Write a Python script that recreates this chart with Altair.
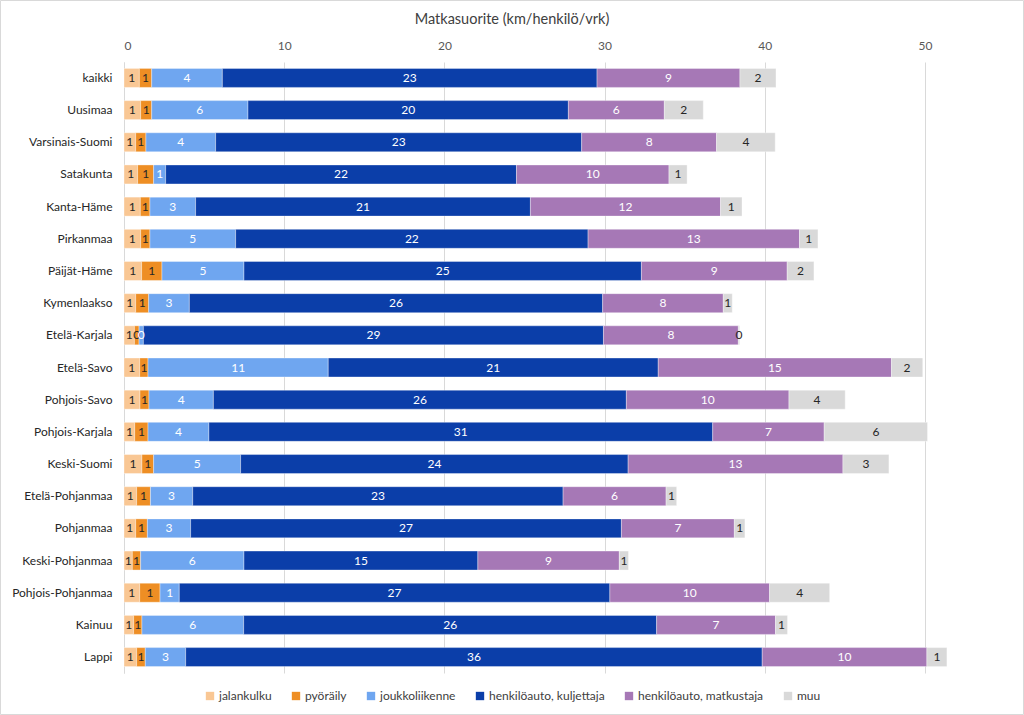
import altair as alt
import pandas as pd

regions = ["kaikki", "Uusimaa", "Varsinais-Suomi", "Satakunta", "Kanta-Häme", "Pirkanmaa",
           "Päijät-Häme", "Kymenlaakso", "Etelä-Karjala", "Etelä-Savo", "Pohjois-Savo",
           "Pohjois-Karjala", "Keski-Suomi", "Etelä-Pohjanmaa", "Pohjanmaa", "Keski-Pohjanmaa",
           "Pohjois-Pohjanmaa", "Kainuu", "Lappi"]

modes = ["jalankulku", "pyöräily", "joukkoliikenne", "henkilöauto, kuljettaja",
         "henkilöauto, matkustaja", "muu"]

jalankulku = [0.96, 1.04, 0.73, 0.85, 1.02, 1.04, 1.10, 0.73, 0.65, 0.98, 1.00, 0.67, 1.12, 0.79, 0.73, 0.52, 0.98, 0.60, 0.79]
pyoraily = [0.77, 0.69, 0.64, 1.00, 0.60, 0.58, 1.27, 0.81, 0.29, 0.52, 0.56, 0.83, 0.73, 0.86, 0.73, 0.52, 1.27, 0.52, 0.54]
joukkoliikenne = [4.41, 6.01, 4.35, 0.75, 2.85, 5.35, 5.12, 2.54, 0.27, 11.25, 4.02, 3.80, 5.43, 2.64, 2.70, 6.45, 1.20, 6.35, 2.52]
kuljettaja = [23.39, 20.00, 22.85, 21.90, 20.90, 22.00, 24.81, 25.80, 28.72, 20.60, 25.78, 31.45, 24.19, 23.12, 26.89, 14.60, 26.88, 25.78, 35.99]
matkustaja = [8.92, 5.99, 8.42, 9.52, 11.87, 13.20, 9.10, 7.53, 8.42, 14.56, 10.15, 6.96, 13.41, 6.43, 7.05, 8.83, 9.97, 7.42, 10.28]
muu = [2.25, 2.43, 3.66, 1.13, 1.34, 1.15, 1.67, 0.56, 0.08, 1.95, 3.51, 6.45, 2.87, 0.66, 0.66, 0.57, 3.75, 0.75, 1.25]

series = [jalankulku, pyoraily, joukkoliikenne, kuljettaja, matkustaja, muu]
colors = ["#F9C794", "#EE8E24", "#6FA6F0", "#0B3EA9", "#A678B6", "#D9D9D9"]
label_colors = ["#262626", "#262626", "#FFFFFF", "#FFFFFF", "#FFFFFF", "#262626"]
x_ticks = [0, 10, 20, 30, 40, 50]

rows = []
for i, r in enumerate(regions):
    for k, m in enumerate(modes):
        rows.append({"alue": r, "muoto": m, "arvo": series[k][i], "jarj": k,
                     "tekstivari": label_colors[k]})
df = pd.DataFrame(rows)

FONT = "Lato"
PLOT_W = 833
PLOT_H = 611

base = alt.Chart(df).transform_stack(
    stack="arvo", as_=["alku", "loppu"], groupby=["alue"],
    sort=[alt.SortField("jarj", order="ascending")]
).transform_calculate(keski="(datum.alku + datum.loppu) / 2")

y_enc = alt.Y("alue:N", sort=regions,
              scale=alt.Scale(paddingInner=0.41, paddingOuter=0.2),
              axis=alt.Axis(title=None, ticks=False, domain=True, domainColor="#D9D9D9",
                            labelFontSize=12, labelColor="#262626", labelPadding=12,
                            labelFont=FONT, grid=False))
x_scale = alt.Scale(domain=[0, 52], nice=False)

bars = base.mark_bar(stroke="white", strokeWidth=0.5, strokeOpacity=0.7).encode(
    y=y_enc,
    x=alt.X("alku:Q", scale=x_scale,
            axis=alt.Axis(orient="top", values=x_ticks, title=None, ticks=False, domain=False,
                          grid=True, gridColor="#D9D9D9", labelColor="#595959",
                          labelFontSize=12, labelPadding=10, labelFont=FONT)),
    x2="loppu:Q",
    color=alt.Color("muoto:N", scale=alt.Scale(domain=modes, range=colors),
                    legend=alt.Legend(title=None, orient="none", direction="horizontal",
                                      legendX=80, legendY=628, symbolType="square",
                                      symbolSize=70, symbolStrokeWidth=0,
                                      labelFontSize=12, labelColor="#404040", labelFont=FONT,
                                      columnPadding=18, labelOffset=3, labelLimit=300)),
)

texts = base.mark_text(fontSize=12, font=FONT).encode(
    y=alt.Y("alue:N", sort=regions),
    x=alt.X("keski:Q", scale=x_scale),
    text=alt.Text("arvo:Q", format=".0f"),
    color=alt.Color("tekstivari:N", scale=None),
)

frame = alt.Chart(pd.DataFrame({"k": [0]})).mark_rect(
    fillOpacity=0, stroke="#D9D9D9", strokeWidth=1
).encode(x=alt.value(-123.5), x2=alt.value(1023.5 - 124), y=alt.value(-61.5), y2=alt.value(714.5 - 62))

chart = alt.layer(frame, bars, texts).properties(
    width=PLOT_W, height=PLOT_H,
    title=alt.TitleParams("Matkasuorite (km/henkilö/vrk)", anchor="middle", frame="bounds",
                          fontSize=14.5, fontWeight="normal", color="#404040", font=FONT,
                          offset=-27),
    autosize=alt.AutoSizeParams(type="none"),
    padding={"left": 124, "top": 62, "right": 67, "bottom": 42},
).configure_view(stroke=None)

chart.save("out.html", embed_options={"renderer": "svg", "actions": False})
